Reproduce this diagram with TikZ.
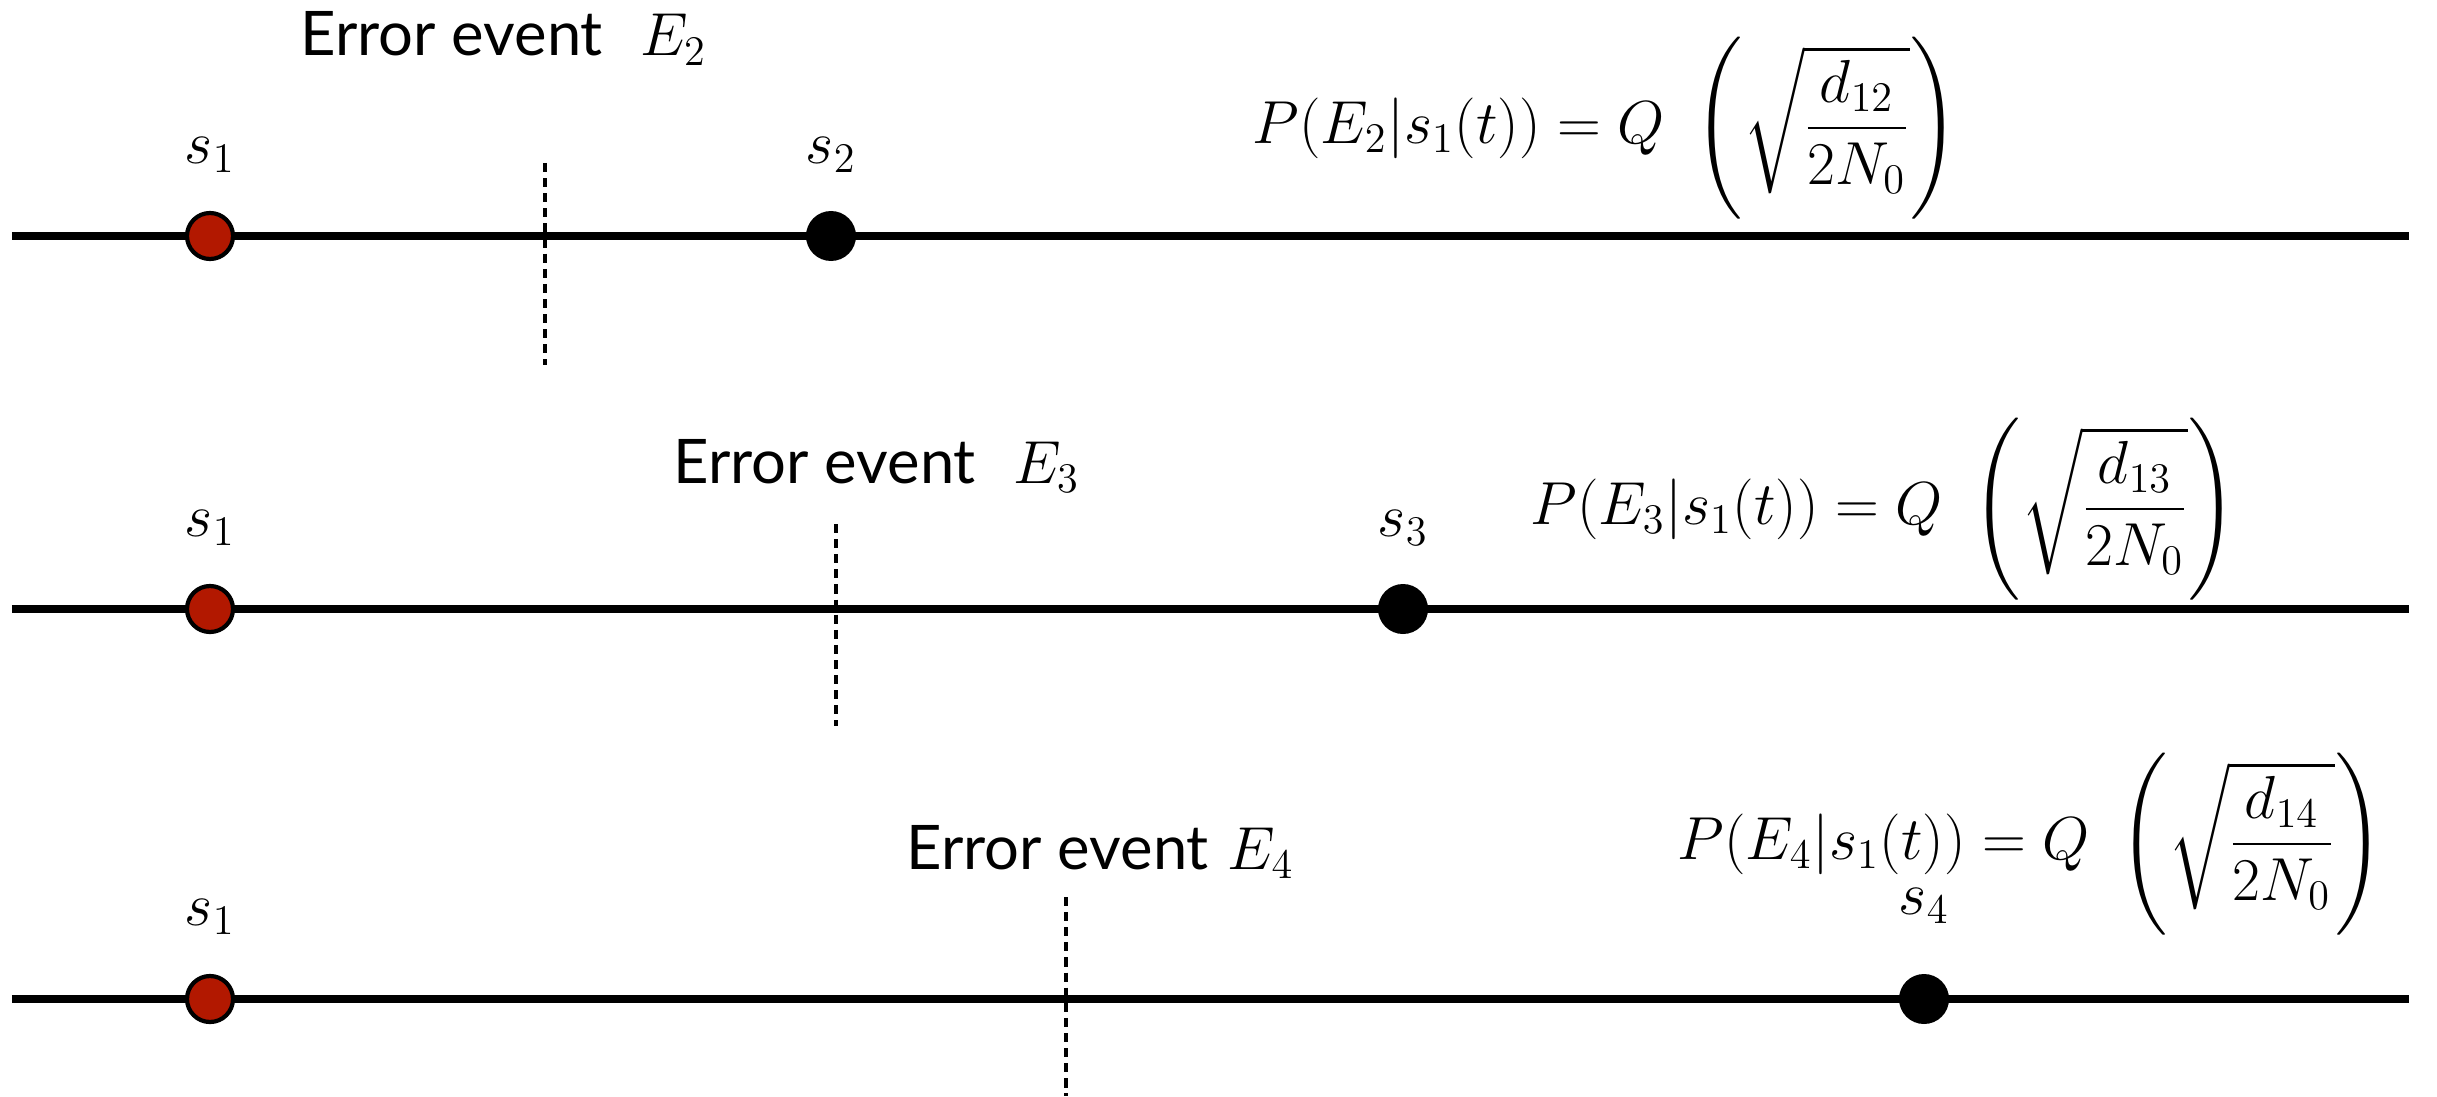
\documentclass[tikz,border=0pt]{standalone}
\usepackage{fontspec}
\newfontfamily\eventfont{Lato}
\usepackage{amsmath}
\usetikzlibrary{positioning}
\definecolor{signalRed}{RGB}{178,24,0}

\begin{document}
\begin{tikzpicture}[
    every node/.style={font=\fontsize{17.5}{21}\selectfont},
    axis/.style={line width=2pt},
    boundary/.style={line width=0.9pt, dash pattern=on 2.6pt off 1.7pt},
    sigdot/.style={circle, draw=black, line width=1.2pt, fill=signalRed,
                   minimum size=0.46cm, inner sep=0pt},
    otherdot/.style={circle, fill=black, minimum size=0.5cm, inner sep=0pt},
    eventlbl/.style={anchor=base west, inner sep=0pt},
    problbl/.style={anchor=west, inner sep=0pt, font=\fontsize{18.6}{22}\selectfont}
  ]
  \useasboundingbox (0,0) rectangle (24.37,10.96);

  % row 1
  \coordinate (axisL1) at (0.12,8.60);
  \coordinate (axisR1) at (24.09,8.60);
  \coordinate (bndTop1) at (5.45,9.33);
  \coordinate (bndBot1) at (5.45,7.31);
  \draw[axis] (axisL1) -- (axisR1);
  \draw[boundary] (bndTop1) -- (bndBot1);
  \node[sigdot] (s1a) at (2.10,8.60) {};
  \node[otherdot] (s2) at (8.31,8.60) {};
  \node (s1aLbl) at (2.10,9.41) {$s_1$};
  \node (s2Lbl) at (8.31,9.41) {$s_2$};
  \node[eventlbl] (event2) at (3.00,10.40) {{\eventfont Error event}\ \ $E_2$};
  \node[problbl] (prob2) at (12.52,9.68)
    {$\displaystyle P(E_2|s_1(t)) = Q\ \left(\sqrt{\dfrac{d_{12}}{2N_0}}\right)$};

  % row 2
  \coordinate (axisL2) at (0.12,4.87);
  \coordinate (axisR2) at (24.09,4.87);
  \coordinate (bndTop2) at (8.36,5.72);
  \coordinate (bndBot2) at (8.36,3.70);
  \draw[axis] (axisL2) -- (axisR2);
  \draw[boundary] (bndTop2) -- (bndBot2);
  \node[sigdot] (s1b) at (2.10,4.87) {};
  \node[otherdot] (s3) at (14.03,4.87) {};
  \node (s1bLbl) at (2.10,5.68) {$s_1$};
  \node (s3Lbl) at (14.03,5.68) {$s_3$};
  \node[eventlbl] (event3) at (6.73,6.13) {{\eventfont Error event}\ \ $E_3$};
  \node[problbl] (prob3) at (15.30,5.87)
    {$\displaystyle P(E_3|s_1(t)) = Q\ \left(\sqrt{\dfrac{d_{13}}{2N_0}}\right)$};

  % row 3
  \coordinate (axisL3) at (0.12,0.97);
  \coordinate (axisR3) at (24.09,0.97);
  \coordinate (bndTop3) at (10.66,1.99);
  \coordinate (bndBot3) at (10.66,0.00);
  \draw[axis] (axisL3) -- (axisR3);
  \draw[boundary] (bndTop3) -- (bndBot3);
  \node[sigdot] (s1c) at (2.10,0.97) {};
  \node[otherdot] (s4) at (19.24,0.97) {};
  \node (s1cLbl) at (2.10,1.79) {$s_1$};
  \node (s4Lbl) at (19.24,1.90) {$s_4$};
  \node[eventlbl] (event4) at (9.06,2.27) {{\eventfont Error event}\ $E_4$};
  \node[problbl] (prob4) at (16.77,2.52)
    {$\displaystyle P(E_4|s_1(t)) = Q\ \left(\sqrt{\dfrac{d_{14}}{2N_0}}\right)$};
\end{tikzpicture}
\end{document}
